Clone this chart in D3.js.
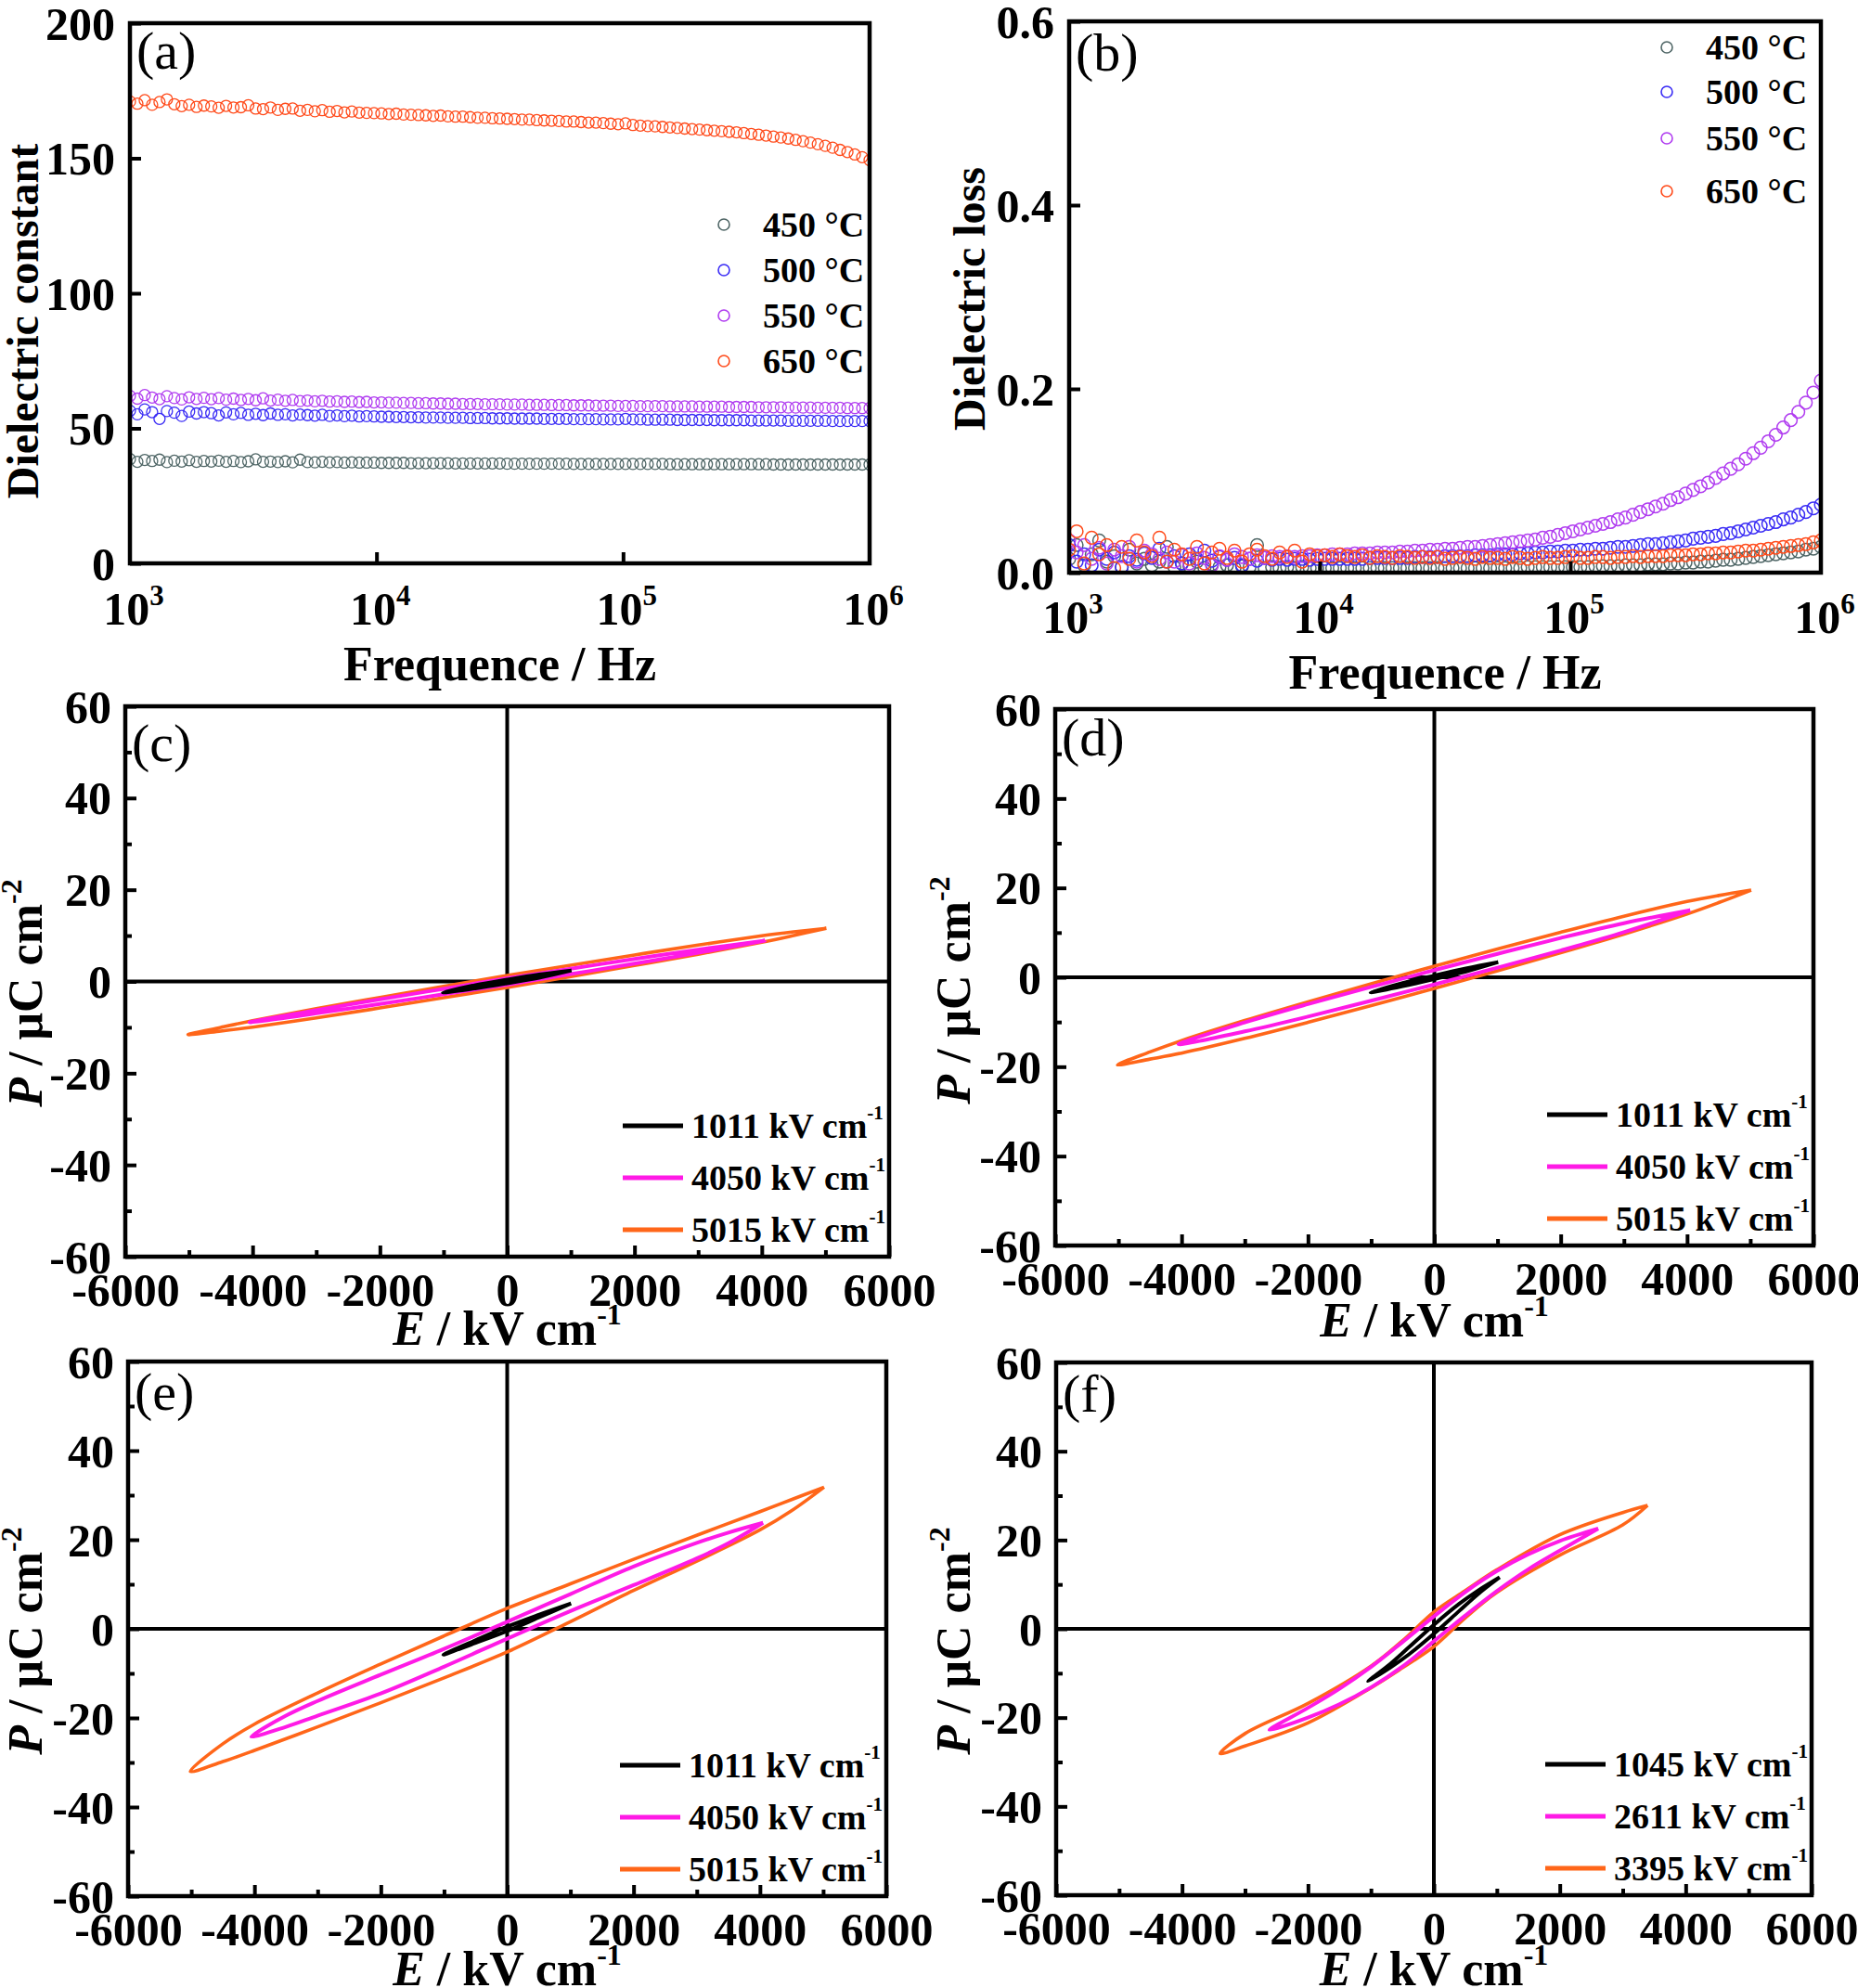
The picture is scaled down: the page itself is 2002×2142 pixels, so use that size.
<!DOCTYPE html>
<html><head><meta charset="utf-8">
<script src="https://cdn.jsdelivr.net/npm/d3@7"></script>
<style>body{margin:0;background:#fff;}</style>
</head><body>
<script>
// ---------------- DATA ----------------
// log10(frequency / Hz) of the measured points
const freqExp = [3.00,3.03,3.06,3.09,3.12,3.15,3.18,3.21,3.24,3.27,3.30,3.33,3.36,3.39,3.42,3.45,3.48,3.51,3.54,3.57,3.60,3.63,3.66,3.69,3.72,3.75,3.78,3.81,3.84,3.87,3.90,3.93,3.96,3.99,4.02,4.05,4.08,4.11,4.14,4.17,4.20,4.23,4.26,4.29,4.32,4.35,4.38,4.41,4.44,4.47,4.50,4.53,4.56,4.59,4.62,4.65,4.68,4.71,4.74,4.77,4.80,4.83,4.86,4.89,4.92,4.95,4.98,5.01,5.04,5.07,5.10,5.13,5.16,5.19,5.22,5.25,5.28,5.31,5.34,5.37,5.40,5.43,5.46,5.49,5.52,5.55,5.58,5.61,5.64,5.67,5.70,5.73,5.76,5.79,5.82,5.85,5.88,5.91,5.94,5.97,6.00];
const tempLabels = ["450 \u00B0C","500 \u00B0C","550 \u00B0C","650 \u00B0C"];
const tempColors = ["#4f6666","#3a2cf5","#b03cf0","#ff4a1a"];

// (a) dielectric constant
const eps450 = [38.6,37.6,38.3,37.9,38.4,37.5,38.0,37.7,38.2,37.6,37.9,
 37.7,38.0,37.6,37.9,37.5,37.8,38.5,37.6,37.7,37.5,37.8,37.4,38.4,37.5,37.4,37.6,37.4,37.5,37.3,37.4,37.3,37.3,37.3,
 37.2,37.2,37.2,37.2,37.1,37.1,37.1,37.1,37.1,37.1,37.0,37.0,37.0,37.0,37.0,37.0,37.0,36.9,36.9,36.9,36.9,36.9,36.9,36.9,36.9,36.9,36.8,36.8,36.8,36.8,36.8,36.8,36.8,
 36.8,36.8,36.8,36.8,36.8,36.8,36.7,36.7,36.7,36.7,36.7,36.7,36.7,36.7,36.7,36.7,36.7,
 36.7,36.7,36.7,36.6,36.6,36.6,36.6,36.6,36.6,36.6,36.6,36.6,36.6,36.6,36.6,36.6,36.6];
const eps500 = [56.5,55.2,57.0,56.0,53.5,56.4,55.8,54.6,56.2,55.5,56.0,
 55.6,54.8,55.9,55.2,55.7,55.0,55.4,54.9,55.5,55.0,55.2,54.8,55.1,54.9,54.7,55.0,54.6,54.8,54.5,54.7,54.4,54.5,54.4,
 54.3,54.3,54.2,54.2,54.1,54.1,54.0,54.0,54.0,53.9,53.9,53.9,53.8,53.8,53.8,53.7,53.7,53.7,53.6,53.6,53.6,53.6,53.5,53.5,53.5,53.5,53.4,53.4,53.4,53.4,53.3,53.3,53.3,
 53.5,53.3,53.3,53.2,53.2,53.2,53.2,53.1,53.1,53.1,53.1,53.1,53.0,53.0,53.0,53.0,53.0,
 52.9,52.9,52.9,52.9,52.9,52.8,52.8,52.8,52.8,52.8,52.8,52.7,52.7,52.7,52.7,52.7,52.7];
const eps550 = [62.0,61.0,62.3,61.4,60.8,61.9,61.2,60.7,61.5,60.9,61.3,
 60.8,61.2,60.6,61.0,60.5,60.9,60.4,61.1,60.3,60.6,60.2,60.5,60.1,60.3,60.0,60.2,59.9,60.0,59.8,59.9,59.7,59.8,59.6,
 59.6,59.5,59.5,59.4,59.4,59.3,59.3,59.2,59.2,59.1,59.1,59.0,59.0,59.0,58.9,58.9,58.9,58.8,58.8,58.8,58.7,58.7,58.7,58.6,58.6,58.6,58.5,58.5,58.5,58.4,58.4,58.4,58.3,
 58.3,58.3,58.2,58.2,58.2,58.2,58.1,58.1,58.1,58.1,58.0,58.0,58.0,58.0,57.9,57.9,57.9,
 57.9,57.8,57.8,57.8,57.8,57.7,57.7,57.7,57.7,57.6,57.6,57.6,57.6,57.5,57.5,57.5,57.5];
const eps650 = [171.0,170.2,171.5,169.8,170.8,171.8,170.0,169.3,169.8,169.0,169.5,
 169.2,168.7,169.4,168.8,168.9,169.6,168.4,168.2,168.8,167.9,168.3,168.4,167.6,167.9,167.4,167.8,167.2,167.5,167.0,167.3,166.9,166.8,166.7,
 166.6,166.4,166.5,166.2,166.1,166.0,165.9,165.7,165.8,165.5,165.4,165.4,165.2,165.0,165.0,164.8,164.7,164.6,164.5,164.3,164.3,164.1,164.0,163.9,163.8,163.6,163.6,163.4,163.2,163.2,163.0,162.8,162.6,
 162.9,162.3,162.1,161.9,161.8,161.6,161.4,161.2,161.0,160.8,160.6,160.4,160.2,160.0,159.8,159.6,159.3,
 159.0,158.7,158.4,158.0,157.7,157.3,156.8,156.3,155.8,155.2,154.6,153.9,153.1,152.3,151.4,150.4,149.3];

// (b) dielectric loss
const loss450 = [0.015,0.030,0.008,0.020,0.035,0.012,0.018,0.006,0.025,0.010,0.015,
 0.008,0.012,0.028,0.006,0.010,0.007,0.012,0.005,0.009,0.006,0.008,0.005,0.007,0.006,0.030,0.005,0.006,0.005,0.006,0.005,0.006,0.005,0.005,
 0.005,0.005,0.005,0.005,0.005,0.005,0.005,0.005,0.005,0.005,0.005,0.005,0.005,0.005,0.005,0.005,0.005,0.005,0.005,0.005,0.005,0.005,0.005,0.005,0.005,0.005,0.005,0.006,0.006,0.006,0.006,0.006,0.006,
 0.006,0.006,0.006,0.007,0.007,0.007,0.007,0.008,0.008,0.008,0.009,0.009,0.009,0.010,0.010,0.011,0.011,
 0.012,0.012,0.013,0.014,0.014,0.015,0.016,0.017,0.018,0.019,0.020,0.021,0.022,0.023,0.025,0.026,0.028];
const loss500 = [0.030,0.012,0.020,0.008,0.025,0.015,0.022,0.006,0.018,0.014,0.021,
 0.016,0.026,0.012,0.018,0.010,0.020,0.015,0.024,0.013,0.017,0.014,0.016,0.008,0.015,0.013,0.016,0.014,0.015,0.014,0.015,0.015,0.014,0.015,
 0.015,0.015,0.015,0.015,0.015,0.015,0.016,0.016,0.016,0.016,0.016,0.016,0.017,0.017,0.017,0.017,0.018,0.018,0.018,0.018,0.019,0.019,0.019,0.020,0.020,0.020,0.021,0.021,0.022,0.022,0.023,0.023,0.024,
 0.024,0.025,0.025,0.026,0.026,0.027,0.028,0.028,0.029,0.030,0.031,0.031,0.032,0.033,0.034,0.035,0.037,
 0.038,0.039,0.040,0.042,0.043,0.045,0.047,0.049,0.051,0.053,0.055,0.058,0.060,0.063,0.066,0.070,0.074];
const loss550 = [0.035,0.022,0.030,0.015,0.027,0.010,0.025,0.018,0.028,0.012,0.024,
 0.020,0.015,0.022,0.012,0.019,0.010,0.021,0.016,0.008,0.018,0.014,0.020,0.017,0.015,0.019,0.016,0.018,0.017,0.018,0.017,0.018,0.018,0.019,
 0.019,0.020,0.020,0.020,0.021,0.021,0.021,0.022,0.022,0.022,0.023,0.023,0.024,0.024,0.025,0.025,0.026,0.026,0.027,0.028,0.028,0.029,0.030,0.031,0.032,0.033,0.034,0.035,0.036,0.038,0.039,0.041,0.043,
 0.045,0.047,0.049,0.051,0.053,0.055,0.058,0.060,0.063,0.066,0.069,0.072,0.075,0.079,0.082,0.086,0.090,
 0.094,0.098,0.103,0.108,0.113,0.118,0.124,0.130,0.136,0.143,0.150,0.158,0.166,0.175,0.185,0.196,0.209];
const loss650 = [0.025,0.045,0.010,0.038,0.020,0.030,0.005,0.028,0.015,0.035,0.022,
 0.018,0.038,0.012,0.025,0.020,0.015,0.028,0.010,0.022,0.026,0.016,0.024,0.012,0.020,0.025,0.018,0.015,0.022,0.017,0.024,0.012,0.020,0.018,
 0.019,0.017,0.020,0.018,0.017,0.019,0.016,0.018,0.017,0.016,0.018,0.017,0.016,0.017,0.016,0.017,0.015,0.016,0.017,0.016,0.015,0.017,0.016,0.016,0.015,0.017,0.016,0.015,0.016,0.017,0.016,0.016,0.017,
 0.018,0.016,0.016,0.017,0.017,0.016,0.017,0.017,0.018,0.017,0.018,0.018,0.018,0.019,0.019,0.019,0.020,
 0.020,0.021,0.021,0.022,0.022,0.023,0.024,0.024,0.025,0.026,0.027,0.028,0.029,0.030,0.031,0.033,0.035];

// P-E loops (E in kV/cm, P in uC/cm2), traced around each loop
const cE1011 = [1011,500,0,-500,-1011,-500,0,500,1011];
const cP1011 = [2.4,1.5,0.4,-0.8,-2.4,-1.5,-0.4,0.8,2.4];
const cE4050 = [4050,3000,2000,1000,0,-1000,-2000,-3000,-4050,-3000,-2000,-1000,0,1000,2000,3000,4050];
const cP4050 = [8.9,6.95,4.9,2.8,0.7,-1.6,-3.9,-6.25,-8.9,-6.95,-4.9,-2.8,-0.7,1.6,3.9,6.25,8.9];
const cE5015 = [5015,4500,4000,3000,2000,1000,0,-1000,-2000,-3000,-4000,-4500,-5015,-4500,-4000,-3000,-2000,-1000,0,1000,2000,3000,4000,4500,5015];
const cP5015 = [11.6,10.81,9.95,7.94,5.78,3.56,1.3,-1.06,-3.48,-5.94,-8.55,-10.01,-11.6,-10.81,-9.95,-7.94,-5.78,-3.56,-1.3,1.06,3.48,5.94,8.55,10.01,11.6];

const dE1011 = [1011,500,0,-500,-1011,-500,0,500,1011];
const dP1011 = [3.4,2.0,0.4,-1.3,-3.4,-2.0,-0.4,1.3,3.4];
const dE4050 = [4050,3000,2000,1000,0,-1000,-2000,-3000,-4050,-3000,-2000,-1000,0,1000,2000,3000,4050];
const dP4050 = [15.0,12.1,8.8,5.25,1.6,-2.15,-6.0,-10.1,-15.0,-12.1,-8.8,-5.25,-1.6,2.15,6.0,10.1,15.0];
const dE5015 = [5015,4500,4000,3000,2000,1000,0,-1000,-2000,-3000,-4000,-4500,-5015,-4500,-4000,-3000,-2000,-1000,0,1000,2000,3000,4000,4500,5015];
const dP5015 = [19.5,18.3,16.96,13.67,10.08,6.34,2.5,-1.44,-5.48,-9.67,-14.16,-16.7,-19.6,-18.3,-16.96,-13.67,-10.08,-6.34,-2.5,1.44,5.48,9.67,14.16,16.7,19.5];

const eE1011 = [1011,500,0,-500,-1011,-500,0,500,1011];
const eP1011 = [5.7,3.15,0.5,-2.55,-5.8,-3.15,-0.5,2.55,5.7];
const eE4050 = [4050,3500,3000,2000,1000,0,-1000,-2000,-3000,-3500,-4050,-3500,-3000,-2000,-1000,0,1000,2000,3000,3500,4050];
const eP4050 = [23.8,21.6,19.3,14.0,7.8,1.6,-4.5,-10.3,-16.2,-19.5,-24.2,-22.0,-19.5,-14.5,-8.5,-2.2,4.0,9.8,15.8,19.2,23.8];
const eE5015 = [5015,4500,4000,3000,2000,1000,0,-1000,-2000,-3000,-4000,-4500,-5015,-4500,-4000,-3000,-2000,-1000,0,1000,2000,3000,4000,4500,5015];
const eP5015 = [31.8,29.0,26.3,21.0,15.6,10.1,4.6,-1.6,-7.9,-14.4,-21.4,-25.8,-32.0,-29.8,-27.3,-22.0,-16.6,-11.0,-5.2,1.6,8.6,15.2,22.2,26.5,31.8];

const fE1045 = [1045,700,400,0,-400,-700,-1045,-700,-400,0,400,700,1045];
const fP1045 = [11.6,8.6,5.6,0.9,-4.2,-8.0,-11.8,-8.8,-5.8,-1.1,4.0,7.8,11.6];
const fE2611 = [2611,2000,1500,1000,500,0,-500,-1000,-1500,-2000,-2611,-2000,-1500,-1000,-500,0,500,1000,1500,2000,2611];
const fP2611 = [22.6,19.8,16.8,13.0,8.3,2.8,-3.0,-8.6,-13.5,-17.8,-22.8,-20.0,-17.0,-13.2,-8.5,-2.8,3.0,8.5,13.4,17.6,22.6];
const fE3395 = [3395,3000,2000,1000,500,0,-500,-1000,-2000,-3000,-3395,-3000,-2000,-1000,-500,0,500,1000,2000,3000,3395];
const fP3395 = [27.8,26.2,21.2,13.3,8.6,3.8,-2.7,-8.4,-16.8,-23.6,-28.1,-26.4,-21.2,-13.3,-8.8,-4.0,2.5,8.2,16.6,23.4,27.8];

const fieldsCDE = ["1011","4050","5015"];
const fieldsF = ["1045","2611","3395"];
const loopColors = ["#000000","#ff1ae6","#ff6619"];
const peXTicks = [-6000,-4000,-2000,0,2000,4000,6000];
const peXMinor = [-5000,-3000,-1000,1000,3000,5000];
const peYTicks = [-60,-40,-20,0,20,40,60];
const peYMinor = [-50,-30,-10,10,30,50];

// ---------------- DRAWING ----------------
const FONT = '"Liberation Serif","Times New Roman",Times,serif';
const svg = d3.select("body").append("svg").attr("width",2002).attr("height",2142)
  .style("background","#fff").style("font-family",FONT);
svg.append("rect").attr("width",2002).attr("height",2142).attr("fill","#fff");
const defs = svg.append("defs");
const plain = d => String(d);   // hyphen-minus like the original

function styleAxis(g, fontSize){
  g.select(".domain").remove();
  g.selectAll(".tick line").attr("stroke","#000").attr("stroke-width",4);
  g.selectAll(".tick text").attr("fill","#000").style("font-family",FONT)
    .style("font-size",fontSize+"px").style("font-weight","bold");
}
function clip(id,o){
  defs.append("clipPath").attr("id",id).append("rect")
    .attr("x",o.L).attr("y",o.T).attr("width",o.R-o.L).attr("height",o.B-o.T);
}
function frame(o){
  svg.append("rect").attr("x",o.L).attr("y",o.T).attr("width",o.R-o.L).attr("height",o.B-o.T)
    .attr("fill","none").attr("stroke","#000").attr("stroke-width",4.5);
}
function panelLabel(o){
  svg.append("text").attr("x",o.L+7).attr("y",o.T+o.lblDy).text(o.lbl)
    .style("font-size","58px").style("font-weight","normal").attr("fill","#000");
}

// ---- dielectric panels ----
const dielPanels = [
  {id:"a",L:140,R:937,T:25,B:607,ydom:[0,200],yticks:[0,50,100,150,200],yfmt:plain,
   series:[eps450,eps500,eps550,eps650],r:6,sw:1.3,legX:780,legTX:822,legY:[242,291,340,389],
   ytitle:"Dielectric constant",ytX:41,ytY:346,xtY:733,xlY:673,lbl:"(a)",lblDy:49},
  {id:"b",L:1152,R:1962,T:23,B:617,ydom:[0,0.6],yticks:[0,0.2,0.4,0.6],yfmt:d3.format(".1f"),
   series:[loss450,loss500,loss550,loss650],r:6.8,sw:1.5,legX:1796,legTX:1838,legY:[51,99,149,206],
   ytitle:"Dielectric loss",ytX:1061,ytY:322,xtY:742,xlY:682,lbl:"(b)",lblDy:53}
];

dielPanels.forEach(o=>{
  const x = d3.scaleLog().domain([1e3,1e6]).range([o.L,o.R]);
  const y = d3.scaleLinear().domain(o.ydom).range([o.B,o.T]);
  clip("clip"+o.id,o);
  const gd = svg.append("g").attr("clip-path",`url(#clip${o.id})`);
  o.series.forEach((s,k)=>{
    gd.append("g").selectAll("circle")
      .data(freqExp.map((e,i)=>({f:Math.pow(10,e),v:s[i]})))
      .join("circle")
      .attr("cx",d=>x(d.f)).attr("cy",d=>y(d.v)).attr("r",o.r)
      .attr("fill","none").attr("stroke",tempColors[k]).attr("stroke-width",o.sw);
  });
  const gx = svg.append("g").attr("transform",`translate(0,${o.B})`)
    .call(d3.axisBottom(x).tickValues([1e4,1e5]).tickSizeInner(-12).tickSizeOuter(0).tickFormat(""));
  styleAxis(gx,50);
  const gy = svg.append("g").attr("transform",`translate(${o.L},0)`)
    .call(d3.axisLeft(y).tickValues(o.yticks).tickSizeInner(-12).tickSizeOuter(0).tickPadding(16).tickFormat(o.yfmt));
  styleAxis(gy,50);
  gy.selectAll(".tick text").attr("dy","0.34em");
  [3,4,5,6].forEach(p=>{
    const t = svg.append("text").attr("x",x(Math.pow(10,p))+4).attr("y",o.xlY)
      .attr("text-anchor","middle").style("font-weight","bold").style("font-size","50px").attr("fill","#000");
    t.append("tspan").text("10");
    t.append("tspan").text(p).style("font-size","31px").attr("dy",-21);
  });
  frame(o);
  panelLabel(o);
  svg.append("text").attr("transform",`translate(${o.ytX},${o.ytY}) rotate(-90)`)
    .attr("text-anchor","middle").style("font-size","48px").style("font-weight","bold").text(o.ytitle);
  svg.append("text").attr("x",(o.L+o.R)/2).attr("y",o.xtY).attr("text-anchor","middle")
    .style("font-size","52px").style("font-weight","bold").text("Frequence / Hz");
  tempLabels.forEach((lab,k)=>{
    svg.append("circle").attr("cx",o.legX).attr("cy",o.legY[k]).attr("r",6)
      .attr("fill","none").attr("stroke",tempColors[k]).attr("stroke-width",1.6);
    svg.append("text").attr("x",o.legTX).attr("y",o.legY[k]+13).style("font-size","38px")
      .style("font-weight","bold").text(lab);
  });
});

// ---- P-E panels ----
const pePanels = [
  {id:"c",L:135,R:958,T:761,B:1354,lbl:"(c)",lblDy:59,ytX:45,ytY:1070,xtY:1449,fields:fieldsCDE,
   loops:[[cE1011,cP1011],[cE4050,cP4050],[cE5015,cP5015]]},
  {id:"d",L:1137,R:1954,T:764,B:1342,lbl:"(d)",lblDy:50,ytX:1045,ytY:1067,xtY:1440,fields:fieldsCDE,
   loops:[[dE1011,dP1011],[dE4050,dP4050],[dE5015,dP5015]]},
  {id:"e",L:138,R:955,T:1467,B:2043,lbl:"(e)",lblDy:52,ytX:45,ytY:1768,xtY:2139,fields:fieldsCDE,
   loops:[[eE1011,eP1011],[eE4050,eP4050],[eE5015,eP5015]]},
  {id:"f",L:1138,R:1952,T:1468,B:2042,lbl:"(f)",lblDy:53,ytX:1045,ytY:1768,xtY:2139,fields:fieldsF,
   loops:[[fE1045,fP1045],[fE2611,fP2611],[fE3395,fP3395]]}
];
const loopWidths = [4,4,3.6];

pePanels.forEach(o=>{
  const x = d3.scaleLinear().domain([-6000,6000]).range([o.L,o.R]);
  const y = d3.scaleLinear().domain([-60,60]).range([o.B,o.T]);
  clip("clip"+o.id,o);
  svg.append("line").attr("x1",o.L).attr("x2",o.R).attr("y1",y(0)).attr("y2",y(0))
    .attr("stroke","#000").attr("stroke-width",4);
  svg.append("line").attr("x1",x(0)).attr("x2",x(0)).attr("y1",o.T).attr("y2",o.B)
    .attr("stroke","#000").attr("stroke-width",4);
  const line = d3.line().x(d=>x(d[0])).y(d=>y(d[1])).curve(d3.curveCatmullRom.alpha(0.5));
  const gl = svg.append("g").attr("clip-path",`url(#clip${o.id})`);
  [2,1,0].forEach(k=>{
    const [E,P] = o.loops[k];
    gl.append("path").attr("d",line(E.map((e,i)=>[e,P[i]])))
      .attr("fill","none").attr("stroke",loopColors[k]).attr("stroke-width",loopWidths[k])
      .attr("stroke-linejoin","round");
  });
  const gx = svg.append("g").attr("transform",`translate(0,${o.B})`)
    .call(d3.axisBottom(x).tickValues(peXTicks).tickSizeInner(-12).tickSizeOuter(0).tickPadding(17).tickFormat(plain));
  styleAxis(gx,50);
  gx.selectAll(".tick text").attr("dy","0.72em");
  const gxm = svg.append("g").attr("transform",`translate(0,${o.B})`)
    .call(d3.axisBottom(x).tickValues(peXMinor).tickSizeInner(-7).tickSizeOuter(0).tickFormat(""));
  styleAxis(gxm,10);
  const gy = svg.append("g").attr("transform",`translate(${o.L},0)`)
    .call(d3.axisLeft(y).tickValues(peYTicks).tickSizeInner(-12).tickSizeOuter(0).tickPadding(15).tickFormat(plain));
  styleAxis(gy,50);
  gy.selectAll(".tick text").attr("dy","0.34em");
  const gym = svg.append("g").attr("transform",`translate(${o.L},0)`)
    .call(d3.axisLeft(y).tickValues(peYMinor).tickSizeInner(-7).tickSizeOuter(0).tickFormat(""));
  styleAxis(gym,10);
  frame(o);
  panelLabel(o);
  const yt = svg.append("text").attr("transform",`translate(${o.ytX},${o.ytY}) rotate(-90)`)
    .attr("text-anchor","middle").style("font-size","52px").style("font-weight","bold");
  yt.append("tspan").text("P").style("font-style","italic");
  yt.append("tspan").text(" / \u03BCC cm");
  yt.append("tspan").text("-2").style("font-size","32px").attr("dy",-22);
  const xt = svg.append("text").attr("x",(o.L+o.R)/2).attr("y",o.xtY).attr("text-anchor","middle")
    .style("font-size","52px").style("font-weight","bold");
  xt.append("tspan").text("E").style("font-style","italic");
  xt.append("tspan").text(" / kV cm");
  xt.append("tspan").text("-1").style("font-size","32px").attr("dy",-22);
  const rows = [o.B-141,o.B-85,o.B-29];
  o.fields.forEach((f,k)=>{
    svg.append("line").attr("x1",o.R-287).attr("x2",o.R-222).attr("y1",rows[k]).attr("y2",rows[k])
      .attr("stroke",loopColors[k]).attr("stroke-width",5);
    const t = svg.append("text").attr("x",o.R-213).attr("y",rows[k]+13)
      .style("font-size","38px").style("font-weight","bold");
    t.append("tspan").text(f+" kV cm");
    t.append("tspan").text("-1").style("font-size","21px").attr("dy",-20);
  });
});
</script>
</body></html>
